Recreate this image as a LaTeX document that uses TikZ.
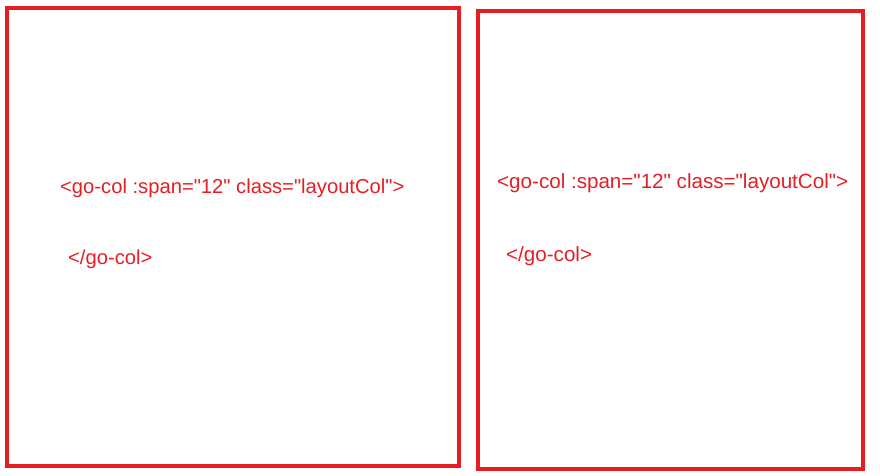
\documentclass[tikz,border=0pt]{standalone}
\usepackage{fontspec}
\setmainfont{Liberation Sans}[Ligatures=TeXOff]
\definecolor{boxred}{RGB}{228,30,36}
\begin{document}
\begin{tikzpicture}[x=1pt,y=-1pt,
  colbox/.style={draw=boxred,line width=4pt},
  code/.style={text=boxred,inner sep=0pt,anchor=base west,font=\fontsize{20.2}{24}\selectfont}]
\useasboundingbox (0,0) rectangle (880,475);
\draw[colbox] (6.5,8) rectangle (459,466);
\draw[colbox] (478,11) rectangle (862.5,469);
\node[code] (lopen) at (60,193) {<go-col :span="12" class="layoutCol">};
\node[code] (lclose) at (68,264) {</go-col>};
\node[code,font=\fontsize{20.6}{24}\selectfont] (ropen) at (497,188) {<go-col :span="12" class="layoutCol">};
\node[code,font=\fontsize{20.6}{24}\selectfont] (rclose) at (506,261) {</go-col>};
\end{tikzpicture}
\end{document}
